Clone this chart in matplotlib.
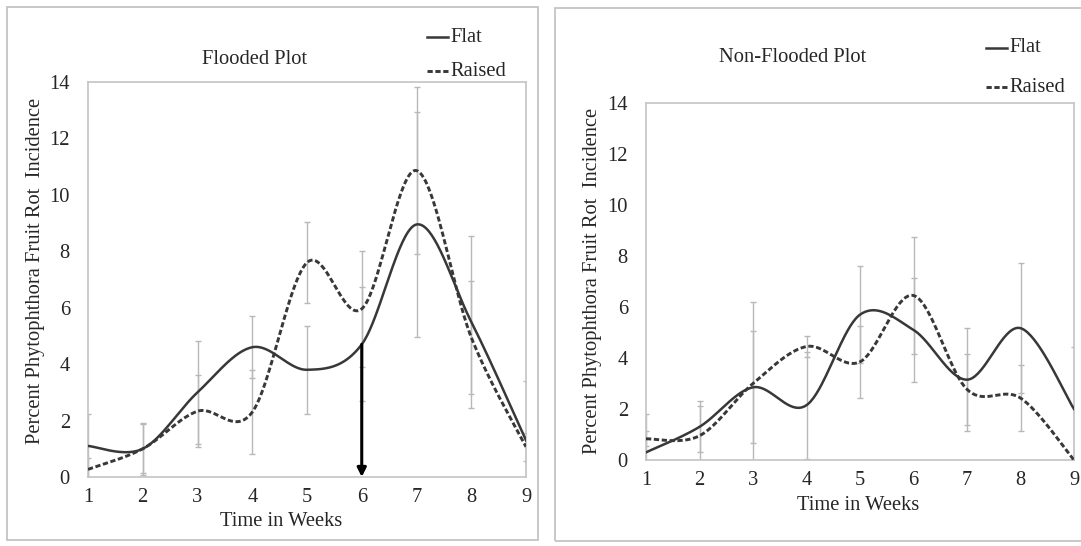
import numpy as np
import matplotlib
matplotlib.use("Agg")
import matplotlib.pyplot as plt
from matplotlib.patches import Rectangle
from matplotlib.lines import Line2D

W, H = 1081, 546
INK = "#262626"; LINE = "#383838"; ERR = "#b8b8b8"; FRAME = "#c4c4c4"
plt.rcParams["font.family"] = ["Liberation Serif", "DejaVu Serif"]
FS = 14.8

weeks = [1, 2, 3, 4, 5, 6, 7, 8, 9]

# Flooded plot
flood_flat = [1.1, 1.0, 3.0, 4.6, 3.8, 4.7, 8.95, 5.5, 1.3]
flood_flat_err = [1.15, 0.93, 1.83, 1.1, 1.55, 2.02, 4.0, 3.05, 2.1]
flood_raised = [0.27, 1.0, 2.33, 2.3, 7.6, 5.96, 10.86, 4.95, 1.07]
flood_raised_err = [0.4, 0.87, 1.27, 1.5, 1.45, 2.05, 2.95, 2.0, 0.5]

# Non-flooded plot
non_flat = [0.3, 1.3, 2.85, 2.15, 5.7, 5.1, 3.15, 5.17, 2.0]
non_flat_err = [1.5, 1.0, 2.2, 2.1, 1.9, 2.05, 2.02, 2.56, 2.45]
non_raised = [0.83, 0.95, 3.0, 4.45, 3.85, 6.45, 2.77, 2.43, 0.0]
non_raised_err = [0.3, 1.15, 3.2, 0.4, 1.4, 2.3, 1.38, 1.3, 0.0]

YLABEL = "Percent Phytophthora Fruit Rot  Incidence"


def smooth(x, y, n=40):
    """Excel-style smoothed line: cubic Bezier through the points."""
    P = np.column_stack([x, y]).astype(float)
    P = np.vstack([P[0], P, P[-1]])
    t = np.linspace(0, 1, n)[:, None]
    out = []
    for i in range(1, len(P) - 2):
        p0, p1, p2, p3 = P[i - 1], P[i], P[i + 1], P[i + 2]
        c1 = p1 + (p2 - p0) / 6
        c2 = p2 - (p3 - p1) / 6
        seg = (1 - t) ** 3 * p1 + 3 * (1 - t) ** 2 * t * c1 + 3 * (1 - t) * t ** 2 * c2 + t ** 3 * p2
        out.append(seg if i == 1 else seg[1:])
    s = np.vstack(out)
    return s[:, 0], s[:, 1]


def px_axes(fig, l, t, r, b):
    return fig.add_axes([l / W, 1 - b / H, (r - l) / W, (b - t) / H])


def fx(x): return x / W
def fy(y): return 1 - y / H


fig = plt.figure(figsize=(W / 100, H / 100), dpi=100)
fig.patch.set_facecolor("white")

# chart-area frames
fig.patches.append(Rectangle((fx(7), fy(540)), (538 - 7) / W, (540 - 7) / H,
                             transform=fig.transFigure, fill=False, ec=FRAME, lw=1.3))
fig.patches.append(Rectangle((fx(555), fy(541)), (1095 - 555) / W, (541 - 8) / H,
                             transform=fig.transFigure, fill=False, ec=FRAME, lw=1.3))

panels = [
    dict(box=(88, 82, 526, 477), title="Flooded Plot", tpos=(255, 59),
         leg=(427, 37, 71), ylab=(36, 271), xlab=(281, 521),
         flat=flood_flat, ferr=flood_flat_err, raised=flood_raised, rerr=flood_raised_err,
         arrow=True),
    dict(box=(646, 103, 1074, 460), title="Non-Flooded Plot", tpos=(793, 57),
         leg=(986, 48, 87), ylab=(593, 281), xlab=(858, 506),
         flat=non_flat, ferr=non_flat_err, raised=non_raised, rerr=non_raised_err,
         arrow=False),
]

for p in panels:
    ax = px_axes(fig, *p["box"])
    ax.set_xlim(1, 9)
    ax.set_ylim(0, 14)
    ax.set_xticks(weeks)
    ax.set_yticks(range(0, 15, 2))
    ax.tick_params(length=0, labelsize=FS, colors=INK)
    ax.tick_params(axis="x", pad=8)
    ax.tick_params(axis="y", pad=13)
    for s in ax.spines.values():
        s.set_color(FRAME); s.set_linewidth(1.2)

    for vals, errs in ((p["flat"], p["ferr"]), (p["raised"], p["rerr"])):
        ax.errorbar(weeks, vals, yerr=errs, fmt="none", ecolor=ERR,
                    elinewidth=1.0, capsize=2.2, capthick=1.0, zorder=1)

    xs, ys = smooth(weeks, p["flat"])
    ax.plot(xs, ys, color=LINE, lw=1.8, zorder=3)
    xs, ys = smooth(weeks, p["raised"])
    ax.plot(xs, ys, color=LINE, lw=2.1, ls=(0, (1.8, 0.9)), zorder=3)

    if p["arrow"]:
        ax.annotate("", xy=(6, 0), xytext=(6, p["flat"][5]),
                    arrowprops=dict(arrowstyle="-|>", lw=2.2, color="black",
                                    mutation_scale=13, shrinkA=0, shrinkB=0),
                    annotation_clip=False, zorder=4)

    fig.text(fx(p["tpos"][0]), fy(p["tpos"][1]), p["title"], ha="center", va="center",
             fontsize=FS, color=INK)
    fig.text(fx(p["ylab"][0]), fy(p["ylab"][1]), YLABEL, rotation=90, ha="center",
             va="center", fontsize=FS, color=INK)
    fig.text(fx(p["xlab"][0]), fy(p["xlab"][1]), "Time in Weeks", ha="center",
             va="center", fontsize=FS, color=INK)

    lx, y1, y2 = p["leg"]
    fig.lines.append(Line2D([fx(lx), fx(lx + 21)], [fy(y1), fy(y1)], transform=fig.transFigure,
                            color=LINE, lw=1.8))
    fig.lines.append(Line2D([fx(lx), fx(lx + 21)], [fy(y2), fy(y2)], transform=fig.transFigure,
                            color=LINE, lw=2.1, ls=(0, (1.8, 0.9))))
    fig.text(fx(lx + 23), fy(y1), "Flat", ha="left", va="center", fontsize=FS, color=INK)
    fig.text(fx(lx + 23), fy(y2), "Raised", ha="left", va="center", fontsize=FS, color=INK)

fig.savefig("out.png", dpi=100, facecolor="white")
